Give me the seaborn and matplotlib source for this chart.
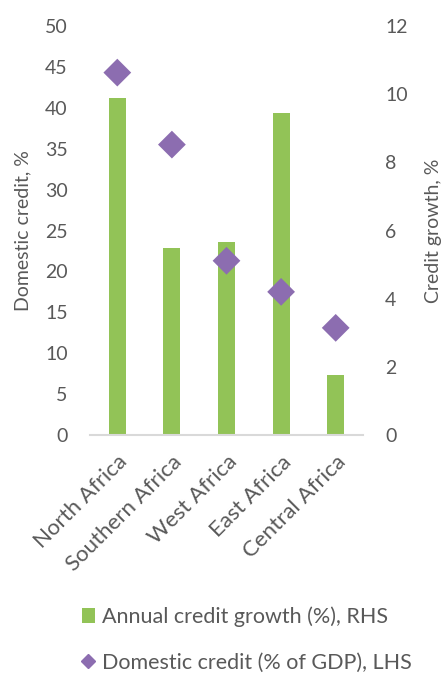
import matplotlib
matplotlib.use("Agg")
import matplotlib.pyplot as plt
import seaborn as sns
import pandas as pd
from matplotlib.patches import Patch
from matplotlib.lines import Line2D

regions = ["North Africa", "Southern Africa", "West Africa", "East Africa", "Central Africa"]
credit_growth = [9.9, 5.5, 5.65, 9.45, 1.75]      # RHS, %
domestic_credit = [44.3, 35.5, 21.3, 17.5, 13.1]  # LHS, % of GDP

GREEN = "#92C357"
PURPLE = "#8C6DB0"
GRAY = "#595959"

sns.set_theme(style="white")
plt.rcParams['font.family'] = ['Lato', 'DejaVu Sans']

df = pd.DataFrame({"region": regions, "growth": credit_growth, "credit": domestic_credit})

fig = plt.figure(figsize=(4.46, 6.73), dpi=100)
ax = fig.add_axes([0.2018, 0.3536, 0.6121, 0.6078])
ax2 = ax.twinx()

sns.barplot(data=df, x="region", y="growth", ax=ax2, color=GREEN, width=0.31,
            saturation=1, edgecolor="none")
sns.scatterplot(data=df, x="region", y="credit", ax=ax, marker="D", s=200,
                color=PURPLE, edgecolor="none", zorder=5)

ax.set_zorder(ax2.get_zorder() + 1)
ax.patch.set_visible(False)

ax.set_ylim(0, 50)
ax.set_yticks(range(0, 51, 5))
ax2.set_ylim(0, 12)
ax2.set_yticks(range(0, 13, 2))
ax.set_xlim(-0.5, 4.5)

for a in (ax, ax2):
    for s in a.spines.values():
        s.set_visible(False)
    a.tick_params(axis="both", length=0, labelsize=14, labelcolor=GRAY)
    a.set_xlabel("")
ax2.spines["bottom"].set_visible(True)
ax2.spines["bottom"].set_color("#D9D9D9")
ax2.spines["bottom"].set_linewidth(1.5)

ax.tick_params(axis="y", pad=16)
ax2.tick_params(axis="y", pad=16)
ax.set_ylabel("Domestic credit, %", fontsize=14, color=GRAY, labelpad=10)
ax2.set_ylabel("Credit growth, %", fontsize=14, color=GRAY, labelpad=12)

ax.set_xticks(range(len(regions)))
ax.set_xticklabels(regions, rotation=45, ha="right", rotation_mode="anchor",
                   fontsize=16, color=GRAY)
ax.tick_params(axis="x", pad=12)

handles = [Patch(facecolor=GREEN, edgecolor="none"),
           Line2D([], [], marker="D", linestyle="none", color=PURPLE, markersize=7)]
labels = ["Annual credit growth (%), RHS", "Domestic credit (% of GDP), LHS"]
fig.legend(handles, labels, loc="upper left", bbox_to_anchor=(0.14, 0.128),
           bbox_transform=fig.transFigure, frameon=False, fontsize=15.5,
           labelcolor=GRAY, handlelength=0.6, handletextpad=0.35, labelspacing=1.2)

fig.savefig("out.png", dpi=100)
